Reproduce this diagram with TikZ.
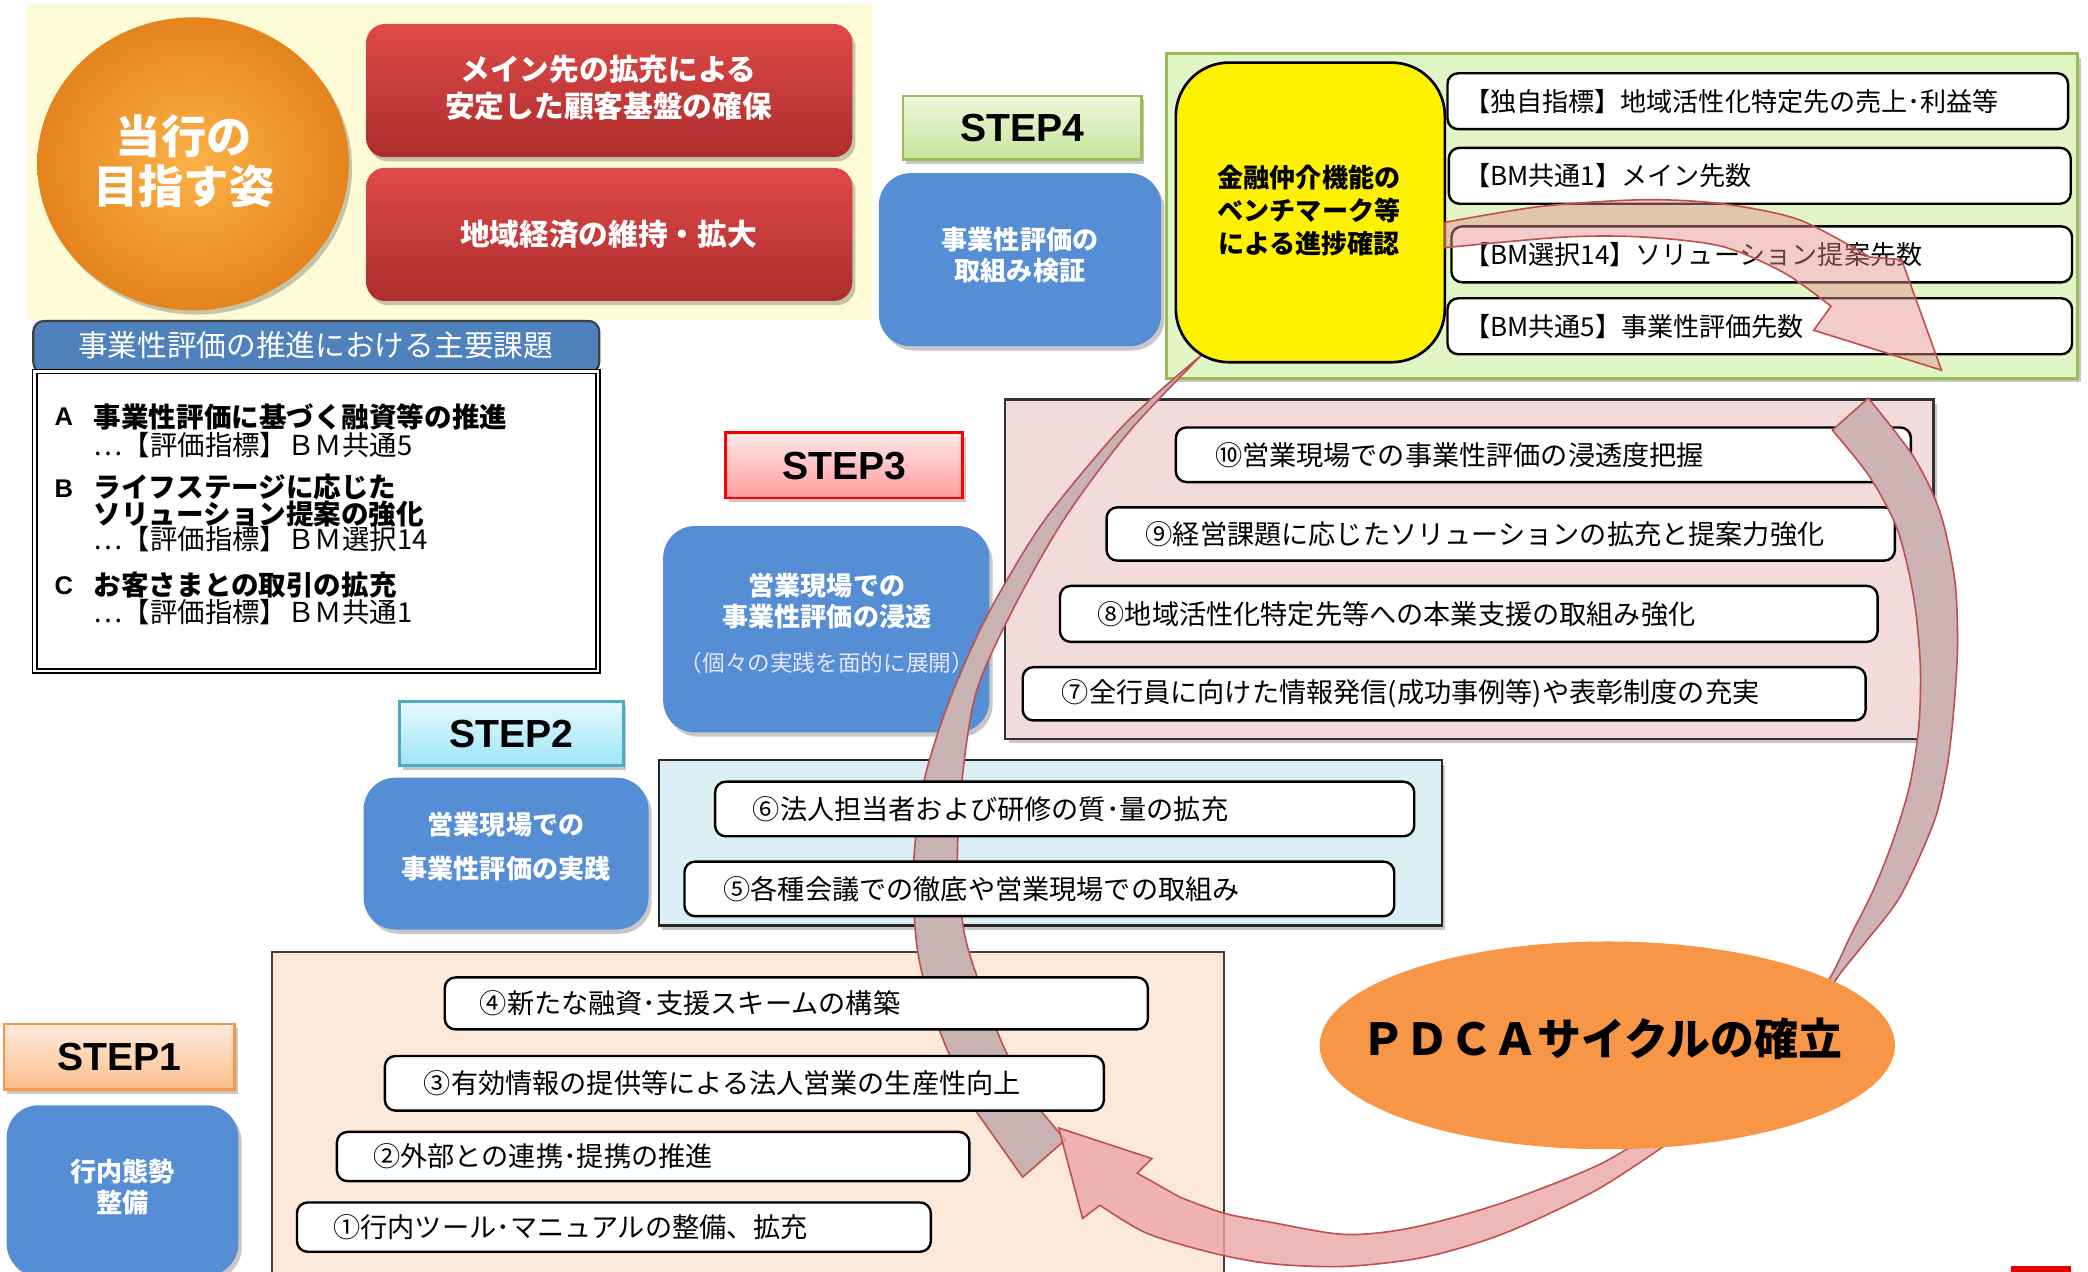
\documentclass[tikz,border=0pt]{standalone}
\usepackage{fontspec}
\newfontfamily\jp{Noto Sans CJK JP}
\newfontfamily\lat{Liberation Sans}
\usetikzlibrary{shadows}
\definecolor{cream}{HTML}{FFFBD6}
\definecolor{orangeL}{HTML}{FCB247}
\definecolor{orangeD}{HTML}{E5841E}
\definecolor{redT}{HTML}{DE4A48}
\definecolor{redB}{HTML}{AC2D2D}
\definecolor{hdrblue}{HTML}{4F81BD}
\definecolor{sfour}{HTML}{EEF8DE}
\definecolor{sfourB}{HTML}{C5E49A}
\definecolor{sfourL}{HTML}{9BBB59}
\definecolor{stepblue}{HTML}{558ED5}
\definecolor{gpanel}{HTML}{E2F5C5}
\definecolor{sthree}{HTML}{FFE8E8}
\definecolor{sthreeB}{HTML}{FF9C9C}
\definecolor{pinkpanel}{HTML}{F2DCDB}
\definecolor{stwo}{HTML}{E6FAFF}
\definecolor{stwoB}{HTML}{9EE4F7}
\definecolor{stwoL}{HTML}{4BACC6}
\definecolor{bluepanel}{HTML}{DAEEF3}
\definecolor{peach}{HTML}{FDE9D9}
\definecolor{sone}{HTML}{FFEBDD}
\definecolor{soneB}{HTML}{FBBF8C}
\definecolor{soneL}{HTML}{F79646}
\definecolor{pdca}{HTML}{F79646}
\definecolor{bandred}{HTML}{C0504D}
\definecolor{bandL}{HTML}{C9B2B2}
\definecolor{bandR}{HTML}{CDB3B3}
\definecolor{bandB}{HTML}{EBA6A6}
\definecolor{bandG}{HTML}{E58C8C}
\begin{document}
\begin{tikzpicture}[x=0.5pt,y=-0.5pt,
  myshadow/.style={drop shadow={shadow xshift=1.2pt,shadow yshift=-1.6pt,opacity=0.22,fill=black}},
  ibox/.style={draw=black,line width=0.9pt,fill=white,rounded corners=4pt},
  itxt/.style={anchor=west,inner sep=0pt,font=\jp\fontsize{10.2}{12}\selectfont},
  gtxt/.style={anchor=west,inner sep=0pt,font=\jp\fontsize{9.8}{12}\selectfont},
  stepbox/.style={line width=1pt,myshadow},
  steptxt/.style={font=\lat\bfseries\fontsize{14.7}{16}\selectfont,inner sep=0pt},
  bluebox/.style={fill=stepblue,rounded corners=12pt,myshadow},
  bluetxt/.style={text=white,align=center,inner sep=0pt},
  lettxt/.style={font=\lat\bfseries\fontsize{9.6}{11}\selectfont,inner sep=0pt},
  ttl/.style={anchor=west,inner sep=0pt,font=\jp\bfseries\fontsize{10.35}{12}\selectfont},
  subt/.style={anchor=west,inner sep=0pt,font=\jp\fontsize{10.3}{12}\selectfont},
  band/.style={draw=bandred,line width=0.6pt}
]
\useasboundingbox (0,0) rectangle (1568,955);
\clip (0,0) rectangle (1568,955);

% ---------- top-left: goal ----------
\path[fill=cream] (20,3) rectangle (655,240);
\path[myshadow,inner color=orangeL,outer color=orangeD] (145,123) ellipse [x radius=117,y radius=110];
\node[text=white,align=center,inner sep=0pt,font=\jp\bfseries\fontsize{17}{19}\selectfont] (goal) at (138,121) {当行の\\目指す姿};
\path[myshadow,rounded corners=7pt,top color=redT,bottom color=redB] (275,18) rectangle (640,118);
\node[text=white,align=center,inner sep=0pt,font=\jp\bfseries\fontsize{11.15}{14}\selectfont] (red1) at (457,66) {メイン先の拡充による\\安定した顧客基盤の確保};
\path[myshadow,rounded corners=7pt,top color=redT,bottom color=redB] (275,126) rectangle (640,226);
\node[text=white,inner sep=0pt,font=\jp\bfseries\fontsize{11.15}{14}\selectfont] (red2) at (457,176) {地域経済の維持・拡大};

% ---------- issues box ----------
\path[fill=hdrblue,draw=black!75,line width=0.8pt,rounded corners=4pt] (25,241) rectangle (450,280);
\path[fill=white,draw=black,line width=0.6pt,double=white,double distance=1pt] (26,279) rectangle (449,504);
\node[text=white,inner sep=0pt,font=\jp\fontsize{11.15}{13}\selectfont] (hdr) at (237,259) {事業性評価の推進における主要課題};
\node[lettxt] (la) at (48,313) {A};
\node[ttl] (ta) at (70,313) {事業性評価に基づく融資等の推進};
\node[subt] (sa) at (70,334) {⋯【評価指標】ＢＭ共通5};
\node[lettxt] (lb) at (48,367) {B};
\node[ttl] (tb1) at (70,366) {ライフステージに応じた};
\node[ttl] (tb2) at (70,386) {ソリューション提案の強化};
\node[subt] (sb) at (70,405) {⋯【評価指標】ＢＭ選択14};
\node[lettxt] (lc) at (48,440) {C};
\node[ttl] (tc) at (70,439) {お客さまとの取引の拡充};
\node[subt] (sc) at (70,460) {⋯【評価指標】ＢＭ共通1};

% ---------- STEP4 ----------
\path[stepbox,top color=sfour,bottom color=sfourB,draw=sfourL] (678,72) rectangle (857,120);
\node[steptxt] (step4) at (767.5,96) {STEP4};
\path[bluebox] (660,130) rectangle (872,260);
\node[bluetxt,font=\jp\bfseries\fontsize{9.8}{11.5}\selectfont] (b4) at (766,191.5) {事業性評価の\\取組み検証};

\path[fill=gpanel,draw=sfourL,line width=1pt,myshadow] (876,40) rectangle (1560,284);
\path[ibox] (1087,55) rectangle (1553,97);
\node[gtxt] (g1) at (1099,76) {【独自指標】地域活性化特定先の売上･利益等};
\path[ibox] (1088,111) rectangle (1555,153);
\node[gtxt] (g2) at (1099,132) {【BM共通1】メイン先数};
\path[ibox] (1090,170) rectangle (1556,212);
\node[gtxt] (g3) at (1099,191) {【BM選択14】ソリューション提案先数};
\path[ibox] (1087,224) rectangle (1556,266);
\node[gtxt] (g4) at (1099,245) {【BM共通5】事業性評価先数};

% ---------- STEP3 / STEP2 / STEP1 labels and blue boxes ----------
\path[stepbox,top color=sthree,bottom color=sthreeB,draw=red] (545,325) rectangle (723,374);
\node[steptxt] (step3) at (634,350) {STEP3};
\path[bluebox] (498,395) rectangle (743,550);
\node[bluetxt,font=\jp\bfseries\fontsize{9.8}{11.5}\selectfont] (b3) at (621,451.5) {営業現場での\\事業性評価の浸透};
\node[text=white!90!blue,inner sep=0pt,font=\jp\fontsize{8.5}{10}\selectfont] (b3s) at (621,498) {（個々の実践を面的に展開）};

\path[stepbox,top color=stwo,bottom color=stwoB,draw=stwoL] (300,527) rectangle (468,575);
\node[steptxt] (step2) at (384,551) {STEP2};
\path[bluebox] (273,584) rectangle (487,698);
\node[bluetxt,font=\jp\bfseries\fontsize{9.8}{16.5}\selectfont] (b2) at (380,635.5) {営業現場での\\事業性評価の実践};

\path[stepbox,top color=sone,bottom color=soneB,draw=soneL] (3,769) rectangle (176,818);
\node[steptxt] (step1) at (89.5,793.5) {STEP1};
\path[bluebox] (5,830) rectangle (179,958);
\node[bluetxt,font=\jp\bfseries\fontsize{9.8}{11.5}\selectfont] (b1) at (92,891.5) {行内態勢\\整備};

% ---------- panels ----------
\path[fill=pinkpanel,draw=black!80,line width=0.8pt,myshadow] (755,300) rectangle (1452,555);
\path[fill=bluepanel,draw=black!85,line width=0.8pt,myshadow] (495,571) rectangle (1083,695);
\path[fill=peach,draw=black!75,line width=0.8pt] (204,715) rectangle (919,975);

% ---------- left band (behind the item boxes) ----------
\filldraw[band,fill=bandL] plot[smooth] coordinates {(903,266) (866,298) (834,330) (782,394) (741,463) (713,526) (694,586) (686,649) (688,706) (696,745) (710,785) (734,836)}
  -- (768,884) -- (800,856)
  -- plot[smooth] coordinates {(783,836) (756,791) (736,740) (724,700) (719,649) (722,590) (733,520) (761,457) (799,390) (848,324) (903,266)} -- cycle;

% ---------- item boxes ----------
\path[ibox] (883,321) rectangle (1435,362);
\node[itxt] (i10) at (912,341.5) {⑩営業現場での事業性評価の浸透度把握};
\path[ibox] (831,381) rectangle (1423,421);
\node[itxt] (i9) at (860,401) {⑨経営課題に応じたソリューションの拡充と提案力強化};
\path[ibox] (796,440) rectangle (1410,482);
\node[itxt] (i8) at (824,461) {⑧地域活性化特定先等への本業支援の取組み強化};
\path[ibox] (768,501) rectangle (1401,541);
\node[itxt] (i7) at (797,521) {⑦全行員に向けた情報発信(成功事例等)や表彰制度の充実};

\path[ibox] (537,587) rectangle (1062,628);
\node[itxt] (i6) at (565,607.5) {⑥法人担当者および研修の質･量の拡充};
\path[ibox] (514,647) rectangle (1047,688);
\node[itxt] (i5) at (543,667.5) {⑤各種会議での徹底や営業現場での取組み};

\path[ibox] (334,734) rectangle (862,773);
\node[itxt] (i4) at (360,753.5) {④新たな融資･支援スキームの構築};
\path[ibox] (289,793) rectangle (829,834);
\node[itxt] (i3) at (318,813.5) {③有効情報の提供等による法人営業の生産性向上};
\path[ibox] (253,850) rectangle (728,887);
\node[itxt] (i2) at (280,868.5) {②外部との連携･提携の推進};
\path[ibox] (223,903) rectangle (699,940);
\node[itxt] (i1) at (250,921.5) {①行内ツール･マニュアルの整備、拡充};

% ---------- right and bottom bands ----------
\filldraw[band,fill=bandR] (1376,323)
  -- plot[smooth] coordinates {(1403,299) (1437,343) (1457,385) (1468,436) (1470,486) (1467,535) (1462,577) (1452,618) (1427,673) (1402,706) (1382,731) (1362,760)}
  -- plot[smooth] coordinates {(1350,757) (1373,736) (1390,702) (1407,668) (1422,630) (1434,590) (1441,545) (1442,498) (1437,448) (1425,398) (1404,358) (1376,323)} -- cycle;

\filldraw[band,fill=bandB,fill opacity=0.8] plot[smooth] coordinates {(1262,852) (1200,893) (1130,926) (1070,944) (1010,951) (955,949) (911,941) (861,926) (826,905)}
  -- (813,915) -- (795,847) -- (865,870) -- (854,881)
  -- plot[smooth] coordinates {(886,899) (919,911) (955,918) (1010,927) (1060,922) (1126,904) (1200,875) (1245,848)} -- cycle;

% ---------- yellow box and its arrow ----------
\path[fill=yellow,draw=black,line width=1pt,rounded corners=20pt] (883,47) rectangle (1085,272);
\node[align=center,inner sep=0pt,font=\jp\bfseries\fontsize{9.8}{12.5}\selectfont] (yl) at (983,158) {金融仲介機能の\\ベンチマーク等\\による進捗確認};

\filldraw[band,fill=bandG,fill opacity=0.45] plot[smooth] coordinates {(1085,167) (1157,155) (1234,150) (1293,153) (1351,165) (1404,193)}
  -- (1428,195) -- (1458,278) -- (1362,248)
  -- plot[smooth] coordinates {(1375,230) (1340,205) (1293,185) (1234,178) (1175,178) (1085,186)} -- cycle;

% ---------- PDCA ellipse ----------
\path[fill=pdca] (1207,785) ellipse [x radius=216,y radius=78];
\node[inner sep=0pt,font=\jp\bfseries\fontsize{16.5}{18}\selectfont] (pdcatxt) at (1203,780) {ＰＤＣＡサイクルの確立};

\path[fill=red!90!black] (1510,951) rectangle (1555,960);
\end{tikzpicture}
\end{document}
